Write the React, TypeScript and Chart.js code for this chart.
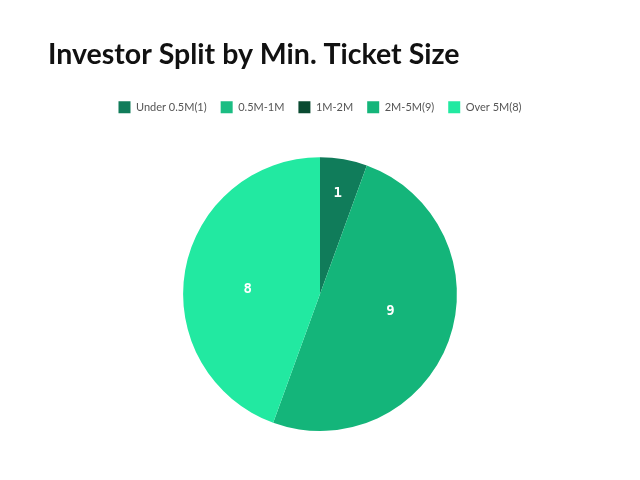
import React, { useEffect, useRef } from "react";
import { Chart, registerables } from "chart.js";

Chart.register(...registerables);

const categories = ["Under 0.5M(1)", "0.5M-1M", "1M-2M", "2M-5M(9)", "Over 5M(8)"];
const values = [1, 0, 0, 9, 8];
const colors = ["#107c5a", "#1bbd83", "#0a4a31", "#14b57a", "#22e9a1"];

const legendGap = {
  id: "legendGap",
  beforeInit(chart: any) {
    const legend = chart.legend;
    if (!legend) return;
    const orig = legend.fit;
    legend.fit = function () {
      orig.call(this);
      this.height += 34;
    };
  },
};

const labelPlugin = {
  id: "sliceLabels",
  afterDatasetsDraw(chart: any) {
    const ctx = chart.ctx;
    const meta = chart.getDatasetMeta(0);
    const data = chart.data.datasets[0].data as number[];
    const total = data.reduce((a, b) => a + b, 0);
    ctx.save();
    ctx.fillStyle = "#ffffff";
    ctx.font = "bold 14px 'DejaVu Sans Mono', monospace";
    ctx.textAlign = "center";
    ctx.textBaseline = "middle";
    meta.data.forEach((arc: any, i: number) => {
      const v = data[i];
      if (!v) return;
      const { x, y, startAngle, endAngle, outerRadius } = arc.getProps(
        ["x", "y", "startAngle", "endAngle", "outerRadius"],
        true
      );
      const small = v / total < 0.1;
      const mid = (startAngle + endAngle) / 2 - (small ? 0 : (6 * Math.PI) / 180);
      const f = small ? 0.75 : 0.53;
      ctx.fillText(String(v), x + Math.cos(mid) * outerRadius * f, y + Math.sin(mid) * outerRadius * f);
    });
    ctx.restore();
  },
};

export default function App() {
  const ref = useRef<HTMLCanvasElement>(null);
  useEffect(() => {
    const chart = new Chart(ref.current!, {
      type: "pie",
      data: {
        labels: categories,
        datasets: [{ data: values, backgroundColor: colors, borderWidth: 0 }],
      },
      options: {
        animation: false,
        responsive: false,
        maintainAspectRatio: false,
        layout: { padding: { top: 0, bottom: 49, left: 48, right: 48 } },
        plugins: {
          title: {
            display: true,
            text: "Investor Split by Min. Ticket Size",
            align: "start",
            color: "#111111",
            font: { family: "Lato", size: 28.5, weight: "bold" },
            padding: { top: 38, bottom: 15 },
          },
          legend: {
            position: "top",
            labels: {
              boxWidth: 12,
              boxHeight: 12,
              color: "#555555",
              padding: 14,
              font: { family: "Lato", size: 11 },
            },
          },
          tooltip: { enabled: false },
        },
      },
      plugins: [legendGap, labelPlugin],
    });
    return () => chart.destroy();
  }, []);
  return (
    <div style={{ position: "fixed", left: 0, top: 0, width: 640, height: 480, background: "#fff" }}>
      <canvas ref={ref} width={640} height={480} style={{ display: "block" }} />
    </div>
  );
}
